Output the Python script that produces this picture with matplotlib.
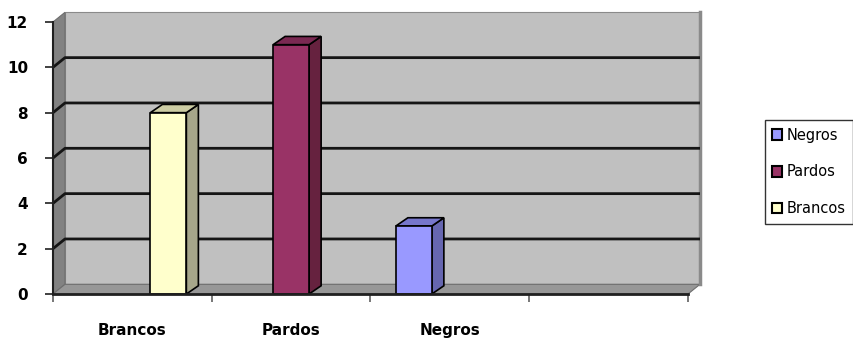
import numpy as np
import matplotlib
matplotlib.use("Agg")
import matplotlib.pyplot as plt
from matplotlib.patches import Polygon, Patch

categories = ["Brancos", "Pardos", "Negros", ""]
series_names = ["Negros", "Pardos", "Brancos"]
negros = [0, 0, 3, 0]
pardos = [0, 11, 0, 0]
brancos = [8, 0, 0, 0]
yticks = [0, 2, 4, 6, 8, 10, 12]

front_colors = ["#9999FF", "#993366", "#FFFFCC"]
side_colors = ["#6666B0", "#66223F", "#A6A68A"]
top_colors = ["#7777CC", "#7A2952", "#CCCCA3"]

fig = plt.figure(figsize=(8.54, 3.40), dpi=100)
ax = fig.add_axes([53 / 854, 46 / 340, 635 / 854, 272 / 340])
ax.set_xlim(0, len(categories))
ax.set_ylim(0, 12)

# depth offset of the 3d box, in data units
px_x = 635 / len(categories)
px_y = 272 / 12
DX = 12 / px_x
DY = 9.7 / px_y
n = len(categories)

# back wall, left wall, floor
ax.add_patch(Polygon([(DX, DY), (n + DX, DY), (n + DX, 12 + DY), (DX, 12 + DY)],
                     facecolor="#C0C0C0", edgecolor="#8A8A8A", lw=0.8, clip_on=False, zorder=1))
ax.plot([n + DX, n + DX], [DY, 12 + DY], color="#8A8A8A", lw=2.5, clip_on=False, zorder=1.5)
ax.add_patch(Polygon([(0, 0), (DX, DY), (DX, 12 + DY), (0, 12)],
                     facecolor="#828282", edgecolor="#6E6E6E", lw=0.8, clip_on=False, zorder=1))
ax.add_patch(Polygon([(0, 0), (n, 0), (n + DX, DY), (DX, DY)],
                     facecolor="#979797", edgecolor="#6E6E6E", lw=0.8, clip_on=False, zorder=1))

# gridlines
for v in yticks[1:-1]:
    ax.plot([0, DX, n + DX], [v, v + DY, v + DY], color="#151515", lw=2.0,
            clip_on=False, zorder=2, solid_capstyle="butt")

# bars
width = 36 / px_x
offsets = [-width, 0, width]
for vals, off, fc, sc, tc in zip([negros, pardos, brancos], offsets,
                                 front_colors, side_colors, top_colors):
    x = np.arange(n) + 0.5 + off
    for xi, v in zip(x, vals):
        if v == 0:
            continue
        x0, x1 = xi - width / 2, xi + width / 2
        ax.add_patch(Polygon([(x1, 0), (x1 + DX, DY * 0.85), (x1 + DX, v + DY * 0.85), (x1, v)],
                             facecolor=sc, edgecolor="black", lw=1.2, clip_on=False, zorder=3))
        ax.add_patch(Polygon([(x0, v), (x1, v), (x1 + DX, v + DY * 0.85), (x0 + DX, v + DY * 0.85)],
                             facecolor=tc, edgecolor="black", lw=1.2, clip_on=False, zorder=3))
        ax.bar(xi, v, width=width, color=fc, edgecolor="black", lw=1.2, zorder=4, clip_on=False)

# axes lines
ax.plot([0, 0], [0, 12], color="#202020", lw=1.5, clip_on=False, zorder=5)
ax.plot([0, n], [0, 0], color="#202020", lw=2.0, clip_on=False, zorder=5)
for s in ax.spines.values():
    s.set_visible(False)
ax.set_facecolor("none")

ax.set_yticks(yticks)
ax.set_yticklabels([str(t) for t in yticks], fontsize=11, fontweight="bold")
ax.tick_params(axis="y", length=6, width=1.2, color="#202020", pad=12)

ax.set_xticks(np.arange(n) + 0.5)
ax.set_xticklabels(categories, fontsize=11, fontweight="bold")
ax.tick_params(axis="x", which="major", length=0, pad=21)
ax.set_xticks(np.arange(n + 1), minor=True)
ax.tick_params(axis="x", which="minor", length=6, width=1.2, color="#606060")

handles = [Patch(facecolor=c, edgecolor="black", lw=1.5) for c in front_colors]
leg = fig.legend(handles, series_names, loc="center left",
                 bbox_to_anchor=(765 / 854, (340 - 172) / 340),
                 fontsize=10.5, frameon=True, fancybox=False, edgecolor="black",
                 labelspacing=1.5, handlelength=0.7, handleheight=0.7,
                 handletextpad=0.3, borderpad=0.5, borderaxespad=0)
leg.get_frame().set_linewidth(1.0)

fig.savefig("out.png", dpi=100, facecolor="white")
